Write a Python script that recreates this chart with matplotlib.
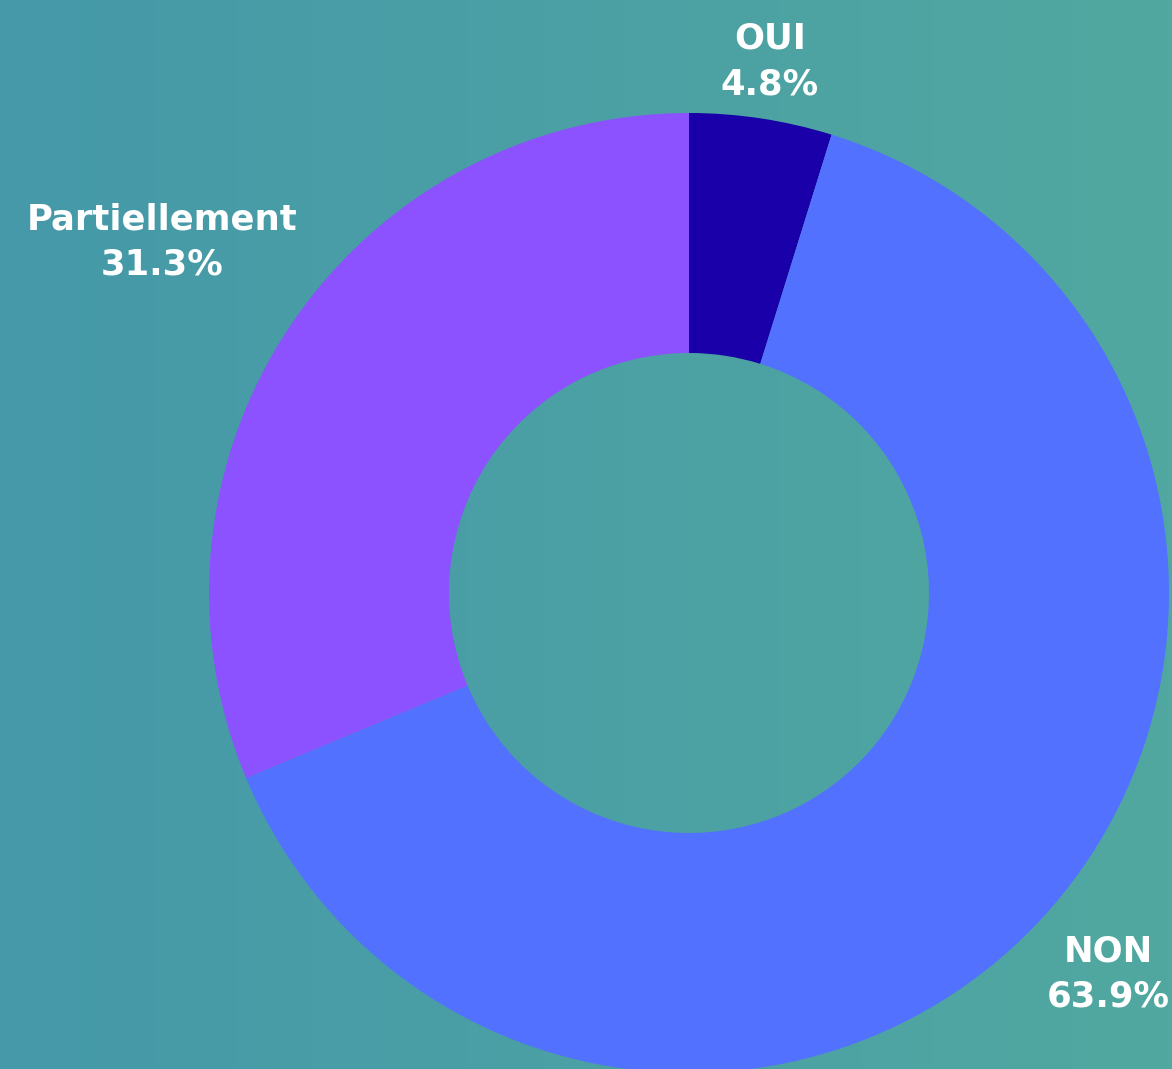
import matplotlib
matplotlib.use("Agg")
import matplotlib.pyplot as plt
import numpy as np
from matplotlib.colors import LinearSegmentedColormap

# données du donut
categories = ["OUI", "NON", "Partiellement"]
values = [4.8, 63.9, 31.3]
colors = ["#1900a9", "#5271ff", "#8c52ff"]
label_dist = [1.12, 1.18, 1.32]

W, H = 1172, 1069
fig = plt.figure(figsize=(W / 100, H / 100), dpi=100)
ax = fig.add_axes([0, 0, 1, 1])
ax.set_xlim(0, W)
ax.set_ylim(0, H)
ax.set_aspect("equal")
ax.axis("off")

# fond en dégradé horizontal
cmap = LinearSegmentedColormap.from_list("bg", ["#4599a9", "#51a8a0"])
grad = np.linspace(0, 1, 256).reshape(1, -1)
ax.imshow(grad, extent=[0, W, 0, H], aspect="auto", cmap=cmap, zorder=0)

cx, cy, R = 689, H - 593, 480
wedges, _ = ax.pie(values, colors=colors, startangle=90, counterclock=False,
                   radius=R, center=(cx, cy), frame=True,
                   wedgeprops=dict(width=R * 0.5, linewidth=0))
ax.set_xlim(0, W)
ax.set_ylim(0, H)
ax.axis("off")

for w, cat, v, d in zip(wedges, categories, values, label_dist):
    ang = np.deg2rad((w.theta1 + w.theta2) / 2)
    x = cx + R * d * np.cos(ang)
    y = cy + R * d * np.sin(ang)
    ax.text(x, y, f"{cat}\n{v:.1f}%", ha="center", va="center",
            color="white", fontsize=25.5, fontweight="bold", family="DejaVu Sans",
            linespacing=1.42, zorder=5)

fig.savefig("out.png", dpi=100)
